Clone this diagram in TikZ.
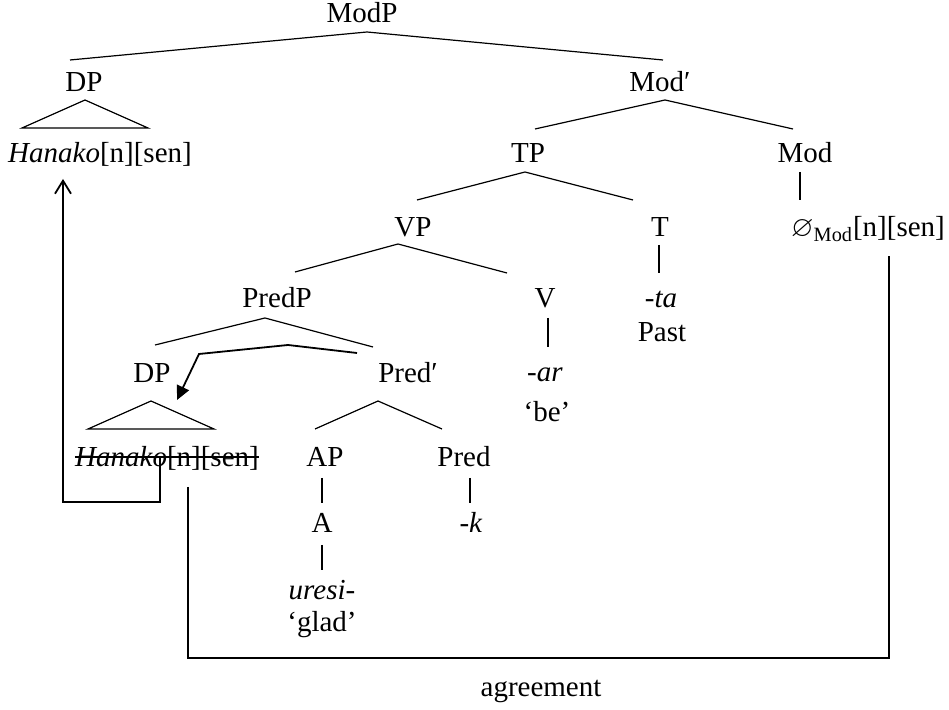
\documentclass[tikz,border=0pt]{standalone}
\usepackage{fontspec}
\setmainfont{Liberation Serif}
\usepackage{amssymb}
\usepackage{tikz}
\usetikzlibrary{calc}
\usetikzlibrary{arrows.meta}

\begin{document}
\begin{tikzpicture}[x=0.5pt,y=-0.5pt]
    \tikzstyle{word}=[font=\fontsize{14.5pt}{17pt}\selectfont,inner sep=0pt,anchor=base]
    \tikzstyle{branch}=[line width=0.6pt,color=black]
    \tikzstyle{movement}=[line width=0.9pt,color=black]
    \tikzstyle{agree}=[line width=1.1pt,color=black]

    \useasboundingbox (0,0) rectangle (949,710);

    % Nodes
    \node[style=word] (modp)   at (362,23)  {ModP};
    \node[style=word] (dp1)    at (84,92)   {DP};
    \node[style=word] (modbar) at (660,92)  {Mod′};
    \node[style=word] (hk1)    at (100,163) {\textit{Hanako}[n][sen]};
    \node[style=word] (tp)     at (528,163) {TP};
    \node[style=word] (mod)    at (805,163) {Mod};
    \node[style=word] (vp)     at (413,237) {VP};
    \node[style=word] (t)      at (660,237) {T};
    \node[style=word] (zero)   at (868,237) {$\varnothing$\textsubscript{Mod}[n][sen]};
    \node[style=word] (predp)  at (277,308) {PredP};
    \node[style=word] (v)      at (545,308) {V};
    \node[style=word] (ta)     at (661,308) {\textit{-ta}};
    \node[style=word] (past)   at (662,342) {Past};
    \node[style=word] (dp2)    at (152,383) {DP};
    \node[style=word] (predbar) at (408,383) {Pred′};
    \node[style=word] (ar)     at (545,382) {\textit{-ar}};
    \node[style=word] (be)     at (547,422) {`be'};
    \node[style=word] (hk2)    at (167,467) {\textit{Hanako}[n][sen]};
    \node[style=word] (ap)     at (325,467) {AP};
    \node[style=word] (pred)   at (464,467) {Pred};
    \node[style=word] (a)      at (322,533) {A};
    \node[style=word] (k)      at (471,533) {\textit{-k}};
    \node[style=word] (uresi)  at (322,600) {\textit{uresi-}};
    \node[style=word] (glad)   at (322,632) {`glad'};
    \node[style=word] (agr)    at (541,697) {agreement};

    % Branches
    \draw[style=branch] ($(dp1.base)+(-14,-32)$) -- ($(modp.base)+(5,9)$) -- ($(modbar.base)+(3,-32)$);
    \draw[style=branch] ($(tp.base)+(7,-34)$) -- ($(modbar.base)+(5,8)$) -- ($(mod.base)+(-12,-34)$);
    \draw[style=branch] ($(vp.base)+(4,-37)$) -- ($(tp.base)+(-3,9)$) -- ($(t.base)+(-27,-37)$);
    \draw[style=branch] ($(predp.base)+(18,-36)$) -- ($(vp.base)+(-15,7)$) -- ($(v.base)+(-38,-35)$);
    \draw[style=branch] ($(dp2.base)+(3,-38)$) -- ($(predp.base)+(-12,10)$) -- ($(predbar.base)+(-35,-36)$);
    \draw[style=branch] ($(ap.base)+(-10,-38)$) -- ($(predbar.base)+(-30,18)$) -- ($(pred.base)+(-22,-38)$);

    % Unary branches
    \draw[style=branch] ($(mod.base)+(-5,9)$) -- ($(mod.base)+(-5,37)$);
    \draw[style=branch] ($(t.base)+(-1,8)$) -- ($(t.base)+(-1,36)$);
    \draw[style=branch] ($(v.base)+(3,10)$) -- ($(v.base)+(3,39)$);
    \draw[style=branch] ($(ap.base)+(-3,11)$) -- ($(ap.base)+(-3,36)$);
    \draw[style=branch] ($(pred.base)+(6,11)$) -- ($(pred.base)+(6,36)$);
    \draw[style=branch] ($(a.base)+(0,12)$) -- ($(a.base)+(0,37)$);

    % Triangles
    \draw[style=branch] ($(dp1.base)+(1,8)$) -- ($(dp1.base)+(-62,36)$) -- ($(dp1.base)+(64,36)$) -- cycle;
    \draw[style=branch] ($(dp2.base)+(-1,18)$) -- ($(dp2.base)+(-64,46)$) -- ($(dp2.base)+(62,46)$) -- cycle;

    % Copy struck out
    \draw[style=movement] ($(hk2.base west)+(0,-10)$) -- ($(hk2.base east)+(0,-10)$);

    % Movement to the top
    \draw[style=movement,-{Straight Barb[length=6.5pt,width=8pt]}] ($(hk2.base)+(-7,-10)$) -- ++(0,45) -| ($(hk1.base)+(-37,16)$);

    % Arrow into the lower DP
    \draw[style=movement,-{Triangle[length=7pt,width=6.5pt]}] ($(predbar.base)+(-51,-30)$) -- ++(-69,-8) -- ++(-89,9) -- ($(dp2.base)+(25,17)$);

    % Agreement
    \coordinate (agrL) at ($(hk2.base)+(21,20)$);
    \coordinate (agrR) at ($(zero.base)+(21,19)$);
    \draw[style=agree] (agrL) -- ++(0,171) -| (agrR);

\end{tikzpicture}
\end{document}
